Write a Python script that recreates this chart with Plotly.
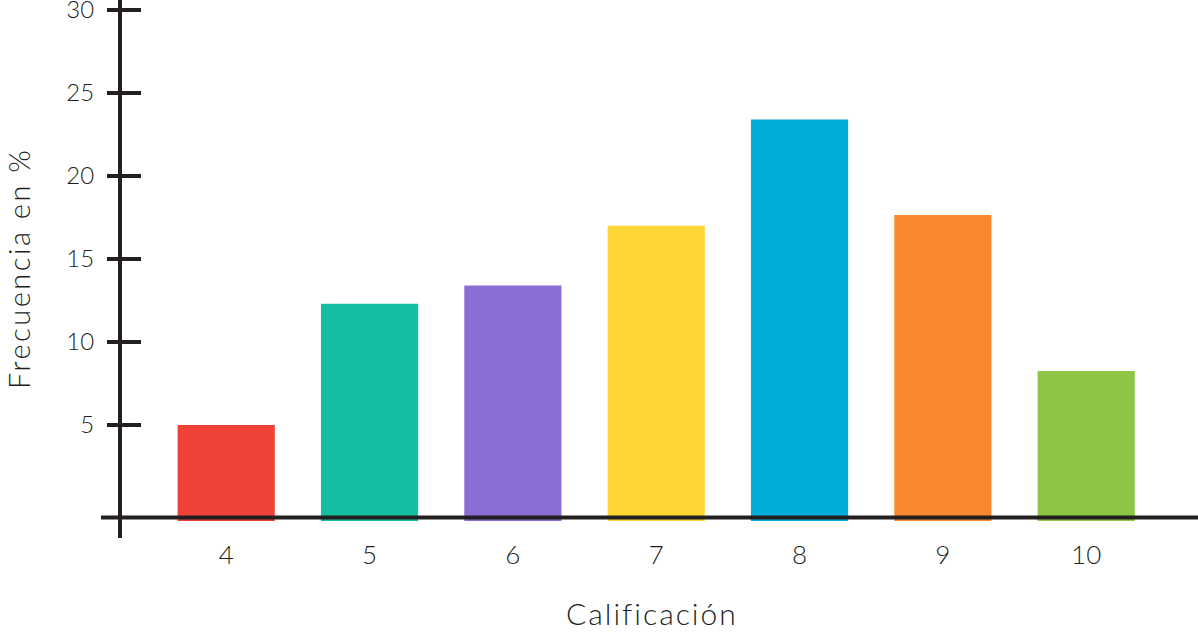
import plotly.graph_objects as go

# Datos
calificaciones = [4, 5, 6, 7, 8, 9, 10]
frecuencias = [5.0, 12.3, 13.4, 17.0, 23.4, 17.65, 8.25]
colores = ['#EF4136', '#13BFA0', '#8B6CD5', '#FFD634', '#00AEDA', '#F7882E', '#8DC545']
ytick_vals = [5, 10, 15, 20, 25, 30]

INK = '#231f20'
FONT = 'Lato'
BAR_BASE = -0.78   # las barras bajan un poco por debajo del eje
AXIS_Y = -0.57     # altura de la linea del eje x

fig = go.Figure()

fig.add_trace(go.Bar(
    x=calificaciones,
    y=[v - BAR_BASE for v in frecuencias],
    base=BAR_BASE,
    width=0.678,
    marker=dict(color=colores, line=dict(width=0)),
    hoverinfo='skip',
))

fig.update_layout(
    width=1198,
    height=632,
    margin=dict(l=122, r=0, t=0, b=94, autoexpand=False),
    plot_bgcolor='white',
    paper_bgcolor='white',
    showlegend=False,
    xaxis=dict(
        range=[3.273, 10.78],
        tickvals=calificaciones,
        ticktext=[str(c) for c in calificaciones],
        showgrid=False, zeroline=False, showline=False, automargin=False,
        ticks='', ticklabelstandoff=-1,
        tickfont=dict(family=FONT, size=26, color=INK, weight=300),
    ),
    yaxis=dict(
        range=[-1.807, 30.6],
        tickvals=ytick_vals,
        showgrid=False, zeroline=False, automargin=False,
        showline=True, linewidth=4, linecolor=INK,
        ticks='outside', ticklen=11, tickwidth=4, tickcolor=INK,
        ticklabelstandoff=8, ticklabeloverflow='allow',
        tickfont=dict(family=FONT, size=24, color=INK, weight=300),
    ),
    yaxis2=dict(
        range=[-1.807, 30.6],
        tickvals=ytick_vals,
        overlaying='y', side='left', matches='y', automargin=False,
        showgrid=False, zeroline=False, showline=False,
        ticks='inside', ticklen=19, tickwidth=4, tickcolor=INK,
        showticklabels=False,
    ),
)

# traza invisible para activar el segundo eje y
fig.add_trace(go.Scatter(x=[calificaciones[0]], y=[0], yaxis='y2', mode='markers',
                         marker=dict(opacity=0), hoverinfo='skip'))

# linea del eje x
fig.add_shape(type='line', xref='paper', yref='y',
              x0=-21 / 1076, x1=1, y0=AXIS_Y, y1=AXIS_Y,
              line=dict(color=INK, width=4))

fig.add_annotation(text='<span style="letter-spacing:2px">Calificación</span>',
                   xref='paper', yref='paper',
                   x=(652 - 122) / 1076, y=-(613 - 538) / 538,
                   showarrow=False, xanchor='center', yanchor='middle',
                   font=dict(family=FONT, size=30, color=INK, weight=300))
fig.add_annotation(text='<span style="letter-spacing:2.5px">Frecuencia en %</span>',
                   xref='paper', yref='paper',
                   x=-(122 - 18) / 1076, y=(538 - 269) / 538,
                   textangle=-90, showarrow=False, xanchor='center', yanchor='middle',
                   font=dict(family=FONT, size=29, color=INK, weight=300))

# quitar el margen del body para que la figura empiece en (0, 0)
fig.write_html("out.html", config={'displayModeBar': False},
               post_script="document.body.style.margin='0';")
